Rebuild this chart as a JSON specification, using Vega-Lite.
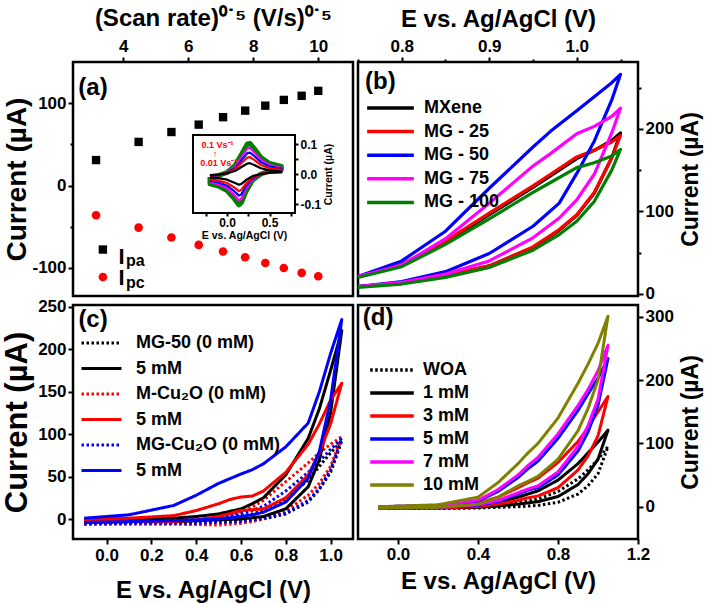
{
"$schema":"https://vega.github.io/schema/vega-lite/v6.json",
"autosize":{"type":"none"},
"padding":{"left":73,"top":62,"right":635,"bottom":542},
"background":"white",
"config":{
 "font":"Liberation Sans",
 "view":{"stroke":"black","strokeWidth":2.5},
 "axis":{"domain":false,"grid":false,"labelOverlap":false,"labelFlush":false,"tickColor":"black","tickWidth":2,"tickSize":5,"labelFont":"Liberation Sans","labelFontWeight":"bold","labelFontSize":17,"labelColor":"black","labelPadding":2,"titleFont":"Liberation Sans","titleFontWeight":"bold","titleFontSize":24,"titleColor":"black"},
 "legend":{"orient":"none","title":null,"symbolType":"stroke","symbolStrokeWidth":3.5,"labelFont":"Liberation Sans","labelFontWeight":"bold","labelFontSize":18,"labelColor":"black","clipHeight":18,"padding":0},
 "text":{"font":"Liberation Sans","fontWeight":"bold","color":"black"},
 "line":{"strokeCap":"butt"}
},
"datasets":{
 "a":[
  {"x":3.16,"I":31,"t":"pa"},{"x":4.47,"I":53,"t":"pa"},{"x":5.48,"I":65,"t":"pa"},{"x":6.32,"I":74,"t":"pa"},{"x":7.07,"I":83,"t":"pa"},{"x":7.75,"I":91,"t":"pa"},{"x":8.37,"I":97,"t":"pa"},{"x":8.94,"I":104,"t":"pa"},{"x":9.49,"I":109,"t":"pa"},{"x":10.0,"I":115,"t":"pa"},
  {"x":3.16,"I":-36,"t":"pc"},{"x":4.47,"I":-51,"t":"pc"},{"x":5.48,"I":-63,"t":"pc"},{"x":6.32,"I":-72,"t":"pc"},{"x":7.07,"I":-80,"t":"pc"},{"x":7.75,"I":-87,"t":"pc"},{"x":8.37,"I":-94,"t":"pc"},{"x":8.94,"I":-100,"t":"pc"},{"x":9.49,"I":-106,"t":"pc"},{"x":10.0,"I":-110,"t":"pc"}
 ],
 "inset":[
  {"s":"g","o":1,"E":-0.2,"I":-0.01},{"s":"g","o":2,"E":-0.1,"I":-0.005},{"s":"g","o":3,"E":0.0,"I":0.005},{"s":"g","o":4,"E":0.1,"I":0.03},{"s":"g","o":5,"E":0.18,"I":0.07},{"s":"g","o":6,"E":0.24,"I":0.1},{"s":"g","o":7,"E":0.27,"I":0.102},{"s":"g","o":8,"E":0.32,"I":0.085},{"s":"g","o":9,"E":0.4,"I":0.055},{"s":"g","o":10,"E":0.5,"I":0.035},{"s":"g","o":11,"E":0.64,"I":0.025},
  {"s":"g","o":12,"E":0.64,"I":0.015},{"s":"g","o":13,"E":0.5,"I":0.01},{"s":"g","o":14,"E":0.4,"I":0.0},{"s":"g","o":15,"E":0.3,"I":-0.02},{"s":"g","o":16,"E":0.22,"I":-0.06},{"s":"g","o":17,"E":0.17,"I":-0.095},{"s":"g","o":18,"E":0.14,"I":-0.103},{"s":"g","o":19,"E":0.08,"I":-0.08},{"s":"g","o":20,"E":0.0,"I":-0.055},{"s":"g","o":21,"E":-0.1,"I":-0.04},{"s":"g","o":22,"E":-0.2,"I":-0.033},{"s":"g","o":23,"E":-0.2,"I":-0.01},
  {"s":"m","o":1,"E":-0.2,"I":-0.009},{"s":"m","o":2,"E":-0.1,"I":-0.004},{"s":"m","o":3,"E":0.0,"I":0.004},{"s":"m","o":4,"E":0.1,"I":0.026},{"s":"m","o":5,"E":0.18,"I":0.06},{"s":"m","o":6,"E":0.24,"I":0.085},{"s":"m","o":7,"E":0.27,"I":0.087},{"s":"m","o":8,"E":0.32,"I":0.072},{"s":"m","o":9,"E":0.4,"I":0.047},{"s":"m","o":10,"E":0.5,"I":0.03},{"s":"m","o":11,"E":0.64,"I":0.021},
  {"s":"m","o":12,"E":0.64,"I":0.013},{"s":"m","o":13,"E":0.5,"I":0.009},{"s":"m","o":14,"E":0.4,"I":0.0},{"s":"m","o":15,"E":0.3,"I":-0.017},{"s":"m","o":16,"E":0.22,"I":-0.051},{"s":"m","o":17,"E":0.17,"I":-0.081},{"s":"m","o":18,"E":0.14,"I":-0.088},{"s":"m","o":19,"E":0.08,"I":-0.068},{"s":"m","o":20,"E":0.0,"I":-0.047},{"s":"m","o":21,"E":-0.1,"I":-0.034},{"s":"m","o":22,"E":-0.2,"I":-0.028},
  {"s":"b","o":1,"E":-0.2,"I":-0.007},{"s":"b","o":2,"E":-0.1,"I":-0.004},{"s":"b","o":3,"E":0.0,"I":0.004},{"s":"b","o":4,"E":0.1,"I":0.021},{"s":"b","o":5,"E":0.18,"I":0.049},{"s":"b","o":6,"E":0.24,"I":0.07},{"s":"b","o":7,"E":0.27,"I":0.071},{"s":"b","o":8,"E":0.32,"I":0.06},{"s":"b","o":9,"E":0.4,"I":0.039},{"s":"b","o":10,"E":0.5,"I":0.025},{"s":"b","o":11,"E":0.64,"I":0.018},
  {"s":"b","o":12,"E":0.64,"I":0.011},{"s":"b","o":13,"E":0.5,"I":0.007},{"s":"b","o":14,"E":0.4,"I":0.0},{"s":"b","o":15,"E":0.3,"I":-0.014},{"s":"b","o":16,"E":0.22,"I":-0.042},{"s":"b","o":17,"E":0.17,"I":-0.067},{"s":"b","o":18,"E":0.14,"I":-0.072},{"s":"b","o":19,"E":0.08,"I":-0.056},{"s":"b","o":20,"E":0.0,"I":-0.039},{"s":"b","o":21,"E":-0.1,"I":-0.028},{"s":"b","o":22,"E":-0.2,"I":-0.023},
  {"s":"r","o":1,"E":-0.2,"I":-0.006},{"s":"r","o":2,"E":-0.1,"I":-0.003},{"s":"r","o":3,"E":0.0,"I":0.003},{"s":"r","o":4,"E":0.1,"I":0.017},{"s":"r","o":5,"E":0.18,"I":0.039},{"s":"r","o":6,"E":0.24,"I":0.055},{"s":"r","o":7,"E":0.27,"I":0.056},{"s":"r","o":8,"E":0.32,"I":0.047},{"s":"r","o":9,"E":0.4,"I":0.03},{"s":"r","o":10,"E":0.5,"I":0.019},{"s":"r","o":11,"E":0.64,"I":0.014},
  {"s":"r","o":12,"E":0.64,"I":0.008},{"s":"r","o":13,"E":0.5,"I":0.006},{"s":"r","o":14,"E":0.4,"I":0.0},{"s":"r","o":15,"E":0.3,"I":-0.011},{"s":"r","o":16,"E":0.22,"I":-0.033},{"s":"r","o":17,"E":0.17,"I":-0.052},{"s":"r","o":18,"E":0.14,"I":-0.057},{"s":"r","o":19,"E":0.08,"I":-0.044},{"s":"r","o":20,"E":0.0,"I":-0.03},{"s":"r","o":21,"E":-0.1,"I":-0.022},{"s":"r","o":22,"E":-0.2,"I":-0.018},
  {"s":"k","o":1,"E":-0.2,"I":-0.004},{"s":"k","o":2,"E":-0.1,"I":-0.002},{"s":"k","o":3,"E":0.0,"I":0.002},{"s":"k","o":4,"E":0.1,"I":0.011},{"s":"k","o":5,"E":0.18,"I":0.025},{"s":"k","o":6,"E":0.24,"I":0.035},{"s":"k","o":7,"E":0.27,"I":0.036},{"s":"k","o":8,"E":0.32,"I":0.03},{"s":"k","o":9,"E":0.4,"I":0.019},{"s":"k","o":10,"E":0.5,"I":0.012},{"s":"k","o":11,"E":0.64,"I":0.009},
  {"s":"k","o":12,"E":0.64,"I":0.005},{"s":"k","o":13,"E":0.5,"I":0.004},{"s":"k","o":14,"E":0.4,"I":0.0},{"s":"k","o":15,"E":0.3,"I":-0.007},{"s":"k","o":16,"E":0.22,"I":-0.021},{"s":"k","o":17,"E":0.17,"I":-0.033},{"s":"k","o":18,"E":0.14,"I":-0.036},{"s":"k","o":19,"E":0.08,"I":-0.028},{"s":"k","o":20,"E":0.0,"I":-0.019},{"s":"k","o":21,"E":-0.1,"I":-0.014},{"s":"k","o":22,"E":-0.2,"I":-0.012}
 ],
 "b":[
  {"s":"MXene","o":1,"E":0.75,"I":9},{"s":"MXene","o":2,"E":0.8,"I":13},{"s":"MXene","o":3,"E":0.85,"I":22},{"s":"MXene","o":4,"E":0.9,"I":34},{"s":"MXene","o":5,"E":0.95,"I":56},{"s":"MXene","o":6,"E":0.98,"I":77},{"s":"MXene","o":7,"E":1.0,"I":95},{"s":"MXene","o":8,"E":1.02,"I":122},{"s":"MXene","o":9,"E":1.04,"I":165},{"s":"MXene","o":10,"E":1.05,"I":195},
  {"s":"MXene","o":11,"E":1.04,"I":186},{"s":"MXene","o":12,"E":1.02,"I":174},{"s":"MXene","o":13,"E":1.0,"I":164},{"s":"MXene","o":14,"E":0.97,"I":143},{"s":"MXene","o":15,"E":0.95,"I":129},{"s":"MXene","o":16,"E":0.9,"I":96},{"s":"MXene","o":17,"E":0.85,"I":62},{"s":"MXene","o":18,"E":0.8,"I":35},{"s":"MXene","o":19,"E":0.75,"I":21},
  {"s":"MG - 25","o":1,"E":0.75,"I":9},{"s":"MG - 25","o":2,"E":0.8,"I":13},{"s":"MG - 25","o":3,"E":0.85,"I":22},{"s":"MG - 25","o":4,"E":0.9,"I":34},{"s":"MG - 25","o":5,"E":0.95,"I":57},{"s":"MG - 25","o":6,"E":0.98,"I":78},{"s":"MG - 25","o":7,"E":1.0,"I":96},{"s":"MG - 25","o":8,"E":1.02,"I":123},{"s":"MG - 25","o":9,"E":1.04,"I":165},{"s":"MG - 25","o":10,"E":1.05,"I":192},
  {"s":"MG - 25","o":11,"E":1.04,"I":184},{"s":"MG - 25","o":12,"E":1.02,"I":174},{"s":"MG - 25","o":13,"E":1.0,"I":166},{"s":"MG - 25","o":14,"E":0.97,"I":145},{"s":"MG - 25","o":15,"E":0.95,"I":131},{"s":"MG - 25","o":16,"E":0.9,"I":98},{"s":"MG - 25","o":17,"E":0.85,"I":64},{"s":"MG - 25","o":18,"E":0.8,"I":36},{"s":"MG - 25","o":19,"E":0.75,"I":21},
  {"s":"MG - 50","o":1,"E":0.75,"I":9},{"s":"MG - 50","o":2,"E":0.8,"I":15},{"s":"MG - 50","o":3,"E":0.85,"I":27},{"s":"MG - 50","o":4,"E":0.9,"I":49},{"s":"MG - 50","o":5,"E":0.95,"I":82},{"s":"MG - 50","o":6,"E":0.98,"I":110},{"s":"MG - 50","o":7,"E":1.0,"I":146},{"s":"MG - 50","o":8,"E":1.02,"I":185},{"s":"MG - 50","o":9,"E":1.04,"I":235},{"s":"MG - 50","o":10,"E":1.05,"I":266},
  {"s":"MG - 50","o":11,"E":1.04,"I":256},{"s":"MG - 50","o":12,"E":1.02,"I":239},{"s":"MG - 50","o":13,"E":1.0,"I":222},{"s":"MG - 50","o":14,"E":0.97,"I":197},{"s":"MG - 50","o":15,"E":0.95,"I":178},{"s":"MG - 50","o":16,"E":0.9,"I":128},{"s":"MG - 50","o":17,"E":0.85,"I":76},{"s":"MG - 50","o":18,"E":0.8,"I":40},{"s":"MG - 50","o":19,"E":0.75,"I":21},
  {"s":"MG - 75","o":1,"E":0.75,"I":9},{"s":"MG - 75","o":2,"E":0.8,"I":14},{"s":"MG - 75","o":3,"E":0.85,"I":24},{"s":"MG - 75","o":4,"E":0.9,"I":40},{"s":"MG - 75","o":5,"E":0.95,"I":68},{"s":"MG - 75","o":6,"E":0.98,"I":92},{"s":"MG - 75","o":7,"E":1.0,"I":114},{"s":"MG - 75","o":8,"E":1.02,"I":145},{"s":"MG - 75","o":9,"E":1.04,"I":195},{"s":"MG - 75","o":10,"E":1.05,"I":225},
  {"s":"MG - 75","o":11,"E":1.04,"I":215},{"s":"MG - 75","o":12,"E":1.02,"I":203},{"s":"MG - 75","o":13,"E":1.0,"I":194},{"s":"MG - 75","o":14,"E":0.97,"I":170},{"s":"MG - 75","o":15,"E":0.95,"I":155},{"s":"MG - 75","o":16,"E":0.9,"I":110},{"s":"MG - 75","o":17,"E":0.85,"I":67},{"s":"MG - 75","o":18,"E":0.8,"I":35},{"s":"MG - 75","o":19,"E":0.75,"I":21},
  {"s":"MG - 100","o":1,"E":0.75,"I":8},{"s":"MG - 100","o":2,"E":0.8,"I":12},{"s":"MG - 100","o":3,"E":0.85,"I":20},{"s":"MG - 100","o":4,"E":0.9,"I":32},{"s":"MG - 100","o":5,"E":0.95,"I":53},{"s":"MG - 100","o":6,"E":0.98,"I":72},{"s":"MG - 100","o":7,"E":1.0,"I":88},{"s":"MG - 100","o":8,"E":1.02,"I":112},{"s":"MG - 100","o":9,"E":1.04,"I":150},{"s":"MG - 100","o":10,"E":1.05,"I":175},
  {"s":"MG - 100","o":11,"E":1.04,"I":167},{"s":"MG - 100","o":12,"E":1.02,"I":159},{"s":"MG - 100","o":13,"E":1.0,"I":153},{"s":"MG - 100","o":14,"E":0.97,"I":135},{"s":"MG - 100","o":15,"E":0.95,"I":123},{"s":"MG - 100","o":16,"E":0.9,"I":91},{"s":"MG - 100","o":17,"E":0.85,"I":60},{"s":"MG - 100","o":18,"E":0.8,"I":33},{"s":"MG - 100","o":19,"E":0.75,"I":20}
 ],
 "c":[
  {"s":"MG-50 (0 mM)","o":1,"E":-0.1,"I":-5},{"s":"MG-50 (0 mM)","o":2,"E":0.1,"I":-5},{"s":"MG-50 (0 mM)","o":3,"E":0.3,"I":-5},{"s":"MG-50 (0 mM)","o":4,"E":0.4,"I":-4.5},{"s":"MG-50 (0 mM)","o":5,"E":0.5,"I":-4},{"s":"MG-50 (0 mM)","o":6,"E":0.6,"I":-3},{"s":"MG-50 (0 mM)","o":7,"E":0.65,"I":-1.5},{"s":"MG-50 (0 mM)","o":8,"E":0.7,"I":0},{"s":"MG-50 (0 mM)","o":9,"E":0.8,"I":6},{"s":"MG-50 (0 mM)","o":10,"E":0.9,"I":20},{"s":"MG-50 (0 mM)","o":11,"E":0.95,"I":35},{"s":"MG-50 (0 mM)","o":12,"E":1.0,"I":55},{"s":"MG-50 (0 mM)","o":13,"E":1.05,"I":92},
  {"s":"MG-50 (0 mM)","o":14,"E":1.0,"I":78},{"s":"MG-50 (0 mM)","o":15,"E":0.95,"I":62},{"s":"MG-50 (0 mM)","o":16,"E":0.9,"I":46},{"s":"MG-50 (0 mM)","o":17,"E":0.8,"I":24},{"s":"MG-50 (0 mM)","o":18,"E":0.7,"I":10},{"s":"MG-50 (0 mM)","o":19,"E":0.65,"I":6},{"s":"MG-50 (0 mM)","o":20,"E":0.6,"I":4},{"s":"MG-50 (0 mM)","o":21,"E":0.5,"I":1},{"s":"MG-50 (0 mM)","o":22,"E":0.4,"I":-1},{"s":"MG-50 (0 mM)","o":23,"E":0.3,"I":-2},{"s":"MG-50 (0 mM)","o":24,"E":0.1,"I":-2},{"s":"MG-50 (0 mM)","o":25,"E":-0.1,"I":-3},
  {"s":"M-Cu₂O (0 mM)","o":1,"E":-0.1,"I":-6},{"s":"M-Cu₂O (0 mM)","o":2,"E":0.1,"I":-6},{"s":"M-Cu₂O (0 mM)","o":3,"E":0.3,"I":-6},{"s":"M-Cu₂O (0 mM)","o":4,"E":0.4,"I":-6.5},{"s":"M-Cu₂O (0 mM)","o":5,"E":0.5,"I":-7},{"s":"M-Cu₂O (0 mM)","o":6,"E":0.6,"I":-5},{"s":"M-Cu₂O (0 mM)","o":7,"E":0.65,"I":-3},{"s":"M-Cu₂O (0 mM)","o":8,"E":0.7,"I":0},{"s":"M-Cu₂O (0 mM)","o":9,"E":0.8,"I":10},{"s":"M-Cu₂O (0 mM)","o":10,"E":0.9,"I":28},{"s":"M-Cu₂O (0 mM)","o":11,"E":0.95,"I":42},{"s":"M-Cu₂O (0 mM)","o":12,"E":1.0,"I":62},{"s":"M-Cu₂O (0 mM)","o":13,"E":1.05,"I":97},
  {"s":"M-Cu₂O (0 mM)","o":14,"E":1.0,"I":88},{"s":"M-Cu₂O (0 mM)","o":15,"E":0.95,"I":78},{"s":"M-Cu₂O (0 mM)","o":16,"E":0.9,"I":66},{"s":"M-Cu₂O (0 mM)","o":17,"E":0.8,"I":44},{"s":"M-Cu₂O (0 mM)","o":18,"E":0.7,"I":22},{"s":"M-Cu₂O (0 mM)","o":19,"E":0.65,"I":14},{"s":"M-Cu₂O (0 mM)","o":20,"E":0.6,"I":8},{"s":"M-Cu₂O (0 mM)","o":21,"E":0.5,"I":2},{"s":"M-Cu₂O (0 mM)","o":22,"E":0.4,"I":-2},{"s":"M-Cu₂O (0 mM)","o":23,"E":0.3,"I":-4},{"s":"M-Cu₂O (0 mM)","o":24,"E":0.1,"I":-4},{"s":"M-Cu₂O (0 mM)","o":25,"E":-0.1,"I":-4},
  {"s":"MG-Cu₂O (0 mM)","o":1,"E":-0.1,"I":-6},{"s":"MG-Cu₂O (0 mM)","o":2,"E":0.1,"I":-5},{"s":"MG-Cu₂O (0 mM)","o":3,"E":0.3,"I":-5},{"s":"MG-Cu₂O (0 mM)","o":4,"E":0.4,"I":-5},{"s":"MG-Cu₂O (0 mM)","o":5,"E":0.5,"I":-4},{"s":"MG-Cu₂O (0 mM)","o":6,"E":0.6,"I":-3},{"s":"MG-Cu₂O (0 mM)","o":7,"E":0.65,"I":-1},{"s":"MG-Cu₂O (0 mM)","o":8,"E":0.7,"I":1},{"s":"MG-Cu₂O (0 mM)","o":9,"E":0.8,"I":7},{"s":"MG-Cu₂O (0 mM)","o":10,"E":0.9,"I":22},{"s":"MG-Cu₂O (0 mM)","o":11,"E":0.95,"I":36},{"s":"MG-Cu₂O (0 mM)","o":12,"E":1.0,"I":58},{"s":"MG-Cu₂O (0 mM)","o":13,"E":1.05,"I":95},
  {"s":"MG-Cu₂O (0 mM)","o":14,"E":1.0,"I":82},{"s":"MG-Cu₂O (0 mM)","o":15,"E":0.95,"I":68},{"s":"MG-Cu₂O (0 mM)","o":16,"E":0.9,"I":55},{"s":"MG-Cu₂O (0 mM)","o":17,"E":0.8,"I":33},{"s":"MG-Cu₂O (0 mM)","o":18,"E":0.7,"I":15},{"s":"MG-Cu₂O (0 mM)","o":19,"E":0.65,"I":10},{"s":"MG-Cu₂O (0 mM)","o":20,"E":0.6,"I":6},{"s":"MG-Cu₂O (0 mM)","o":21,"E":0.5,"I":1},{"s":"MG-Cu₂O (0 mM)","o":22,"E":0.4,"I":-1},{"s":"MG-Cu₂O (0 mM)","o":23,"E":0.3,"I":-2},{"s":"MG-Cu₂O (0 mM)","o":24,"E":0.1,"I":-3},{"s":"MG-Cu₂O (0 mM)","o":25,"E":-0.1,"I":-4},
  {"s":"MG-50 5 mM","o":1,"E":-0.1,"I":-3},{"s":"MG-50 5 mM","o":2,"E":0.1,"I":-3},{"s":"MG-50 5 mM","o":3,"E":0.3,"I":-3},{"s":"MG-50 5 mM","o":4,"E":0.4,"I":-2},{"s":"MG-50 5 mM","o":5,"E":0.5,"I":-1},{"s":"MG-50 5 mM","o":6,"E":0.6,"I":0},{"s":"MG-50 5 mM","o":7,"E":0.65,"I":1.5},{"s":"MG-50 5 mM","o":8,"E":0.7,"I":3},{"s":"MG-50 5 mM","o":9,"E":0.8,"I":12},{"s":"MG-50 5 mM","o":10,"E":0.9,"I":38},{"s":"MG-50 5 mM","o":11,"E":0.95,"I":70},{"s":"MG-50 5 mM","o":12,"E":1.0,"I":125},{"s":"MG-50 5 mM","o":13,"E":1.05,"I":222},
  {"s":"MG-50 5 mM","o":14,"E":1.0,"I":175},{"s":"MG-50 5 mM","o":15,"E":0.95,"I":130},{"s":"MG-50 5 mM","o":16,"E":0.9,"I":95},{"s":"MG-50 5 mM","o":17,"E":0.8,"I":52},{"s":"MG-50 5 mM","o":18,"E":0.7,"I":25},{"s":"MG-50 5 mM","o":19,"E":0.65,"I":18},{"s":"MG-50 5 mM","o":20,"E":0.6,"I":12},{"s":"MG-50 5 mM","o":21,"E":0.5,"I":6},{"s":"MG-50 5 mM","o":22,"E":0.4,"I":3},{"s":"MG-50 5 mM","o":23,"E":0.3,"I":1},{"s":"MG-50 5 mM","o":24,"E":0.1,"I":0},{"s":"MG-50 5 mM","o":25,"E":-0.1,"I":-1},
  {"s":"M-Cu₂O 5 mM","o":1,"E":-0.1,"I":-3},{"s":"M-Cu₂O 5 mM","o":2,"E":0.1,"I":-3},{"s":"M-Cu₂O 5 mM","o":3,"E":0.3,"I":-3},{"s":"M-Cu₂O 5 mM","o":4,"E":0.4,"I":-1},{"s":"M-Cu₂O 5 mM","o":5,"E":0.5,"I":3},{"s":"M-Cu₂O 5 mM","o":6,"E":0.6,"I":10},{"s":"M-Cu₂O 5 mM","o":7,"E":0.65,"I":11},{"s":"M-Cu₂O 5 mM","o":8,"E":0.7,"I":12},{"s":"M-Cu₂O 5 mM","o":9,"E":0.8,"I":25},{"s":"M-Cu₂O 5 mM","o":10,"E":0.9,"I":52},{"s":"M-Cu₂O 5 mM","o":11,"E":0.95,"I":78},{"s":"M-Cu₂O 5 mM","o":12,"E":1.0,"I":112},{"s":"M-Cu₂O 5 mM","o":13,"E":1.05,"I":160},
  {"s":"M-Cu₂O 5 mM","o":14,"E":1.0,"I":140},{"s":"M-Cu₂O 5 mM","o":15,"E":0.95,"I":112},{"s":"M-Cu₂O 5 mM","o":16,"E":0.9,"I":88},{"s":"M-Cu₂O 5 mM","o":17,"E":0.8,"I":55},{"s":"M-Cu₂O 5 mM","o":18,"E":0.7,"I":33},{"s":"M-Cu₂O 5 mM","o":19,"E":0.65,"I":27},{"s":"M-Cu₂O 5 mM","o":20,"E":0.6,"I":26},{"s":"M-Cu₂O 5 mM","o":21,"E":0.55,"I":23},{"s":"M-Cu₂O 5 mM","o":22,"E":0.5,"I":18},{"s":"M-Cu₂O 5 mM","o":23,"E":0.4,"I":10},{"s":"M-Cu₂O 5 mM","o":24,"E":0.3,"I":4},{"s":"M-Cu₂O 5 mM","o":25,"E":0.1,"I":1},{"s":"M-Cu₂O 5 mM","o":26,"E":-0.1,"I":0},
  {"s":"MG-Cu₂O 5 mM","o":1,"E":-0.1,"I":-4},{"s":"MG-Cu₂O 5 mM","o":2,"E":0.1,"I":-3},{"s":"MG-Cu₂O 5 mM","o":3,"E":0.3,"I":-2},{"s":"MG-Cu₂O 5 mM","o":4,"E":0.4,"I":-1},{"s":"MG-Cu₂O 5 mM","o":5,"E":0.5,"I":0},{"s":"MG-Cu₂O 5 mM","o":6,"E":0.6,"I":3},{"s":"MG-Cu₂O 5 mM","o":7,"E":0.65,"I":5},{"s":"MG-Cu₂O 5 mM","o":8,"E":0.7,"I":8},{"s":"MG-Cu₂O 5 mM","o":9,"E":0.8,"I":20},{"s":"MG-Cu₂O 5 mM","o":10,"E":0.9,"I":48},{"s":"MG-Cu₂O 5 mM","o":11,"E":0.95,"I":80},{"s":"MG-Cu₂O 5 mM","o":12,"E":1.0,"I":140},{"s":"MG-Cu₂O 5 mM","o":13,"E":1.05,"I":235},
  {"s":"MG-Cu₂O 5 mM","o":14,"E":1.0,"I":195},{"s":"MG-Cu₂O 5 mM","o":15,"E":0.95,"I":150},{"s":"MG-Cu₂O 5 mM","o":16,"E":0.9,"I":113},{"s":"MG-Cu₂O 5 mM","o":17,"E":0.8,"I":85},{"s":"MG-Cu₂O 5 mM","o":18,"E":0.7,"I":65},{"s":"MG-Cu₂O 5 mM","o":19,"E":0.65,"I":58},{"s":"MG-Cu₂O 5 mM","o":20,"E":0.6,"I":53},{"s":"MG-Cu₂O 5 mM","o":21,"E":0.5,"I":42},{"s":"MG-Cu₂O 5 mM","o":22,"E":0.4,"I":28},{"s":"MG-Cu₂O 5 mM","o":23,"E":0.3,"I":16},{"s":"MG-Cu₂O 5 mM","o":24,"E":0.1,"I":5},{"s":"MG-Cu₂O 5 mM","o":25,"E":-0.1,"I":1}
 ],
 "d":[
  {"s":"WOA","o":1,"E":-0.1,"I":-3},{"s":"WOA","o":2,"E":0.2,"I":-3},{"s":"WOA","o":3,"E":0.4,"I":-2},{"s":"WOA","o":4,"E":0.5,"I":-1},{"s":"WOA","o":5,"E":0.6,"I":0},{"s":"WOA","o":6,"E":0.65,"I":1},{"s":"WOA","o":7,"E":0.7,"I":2},{"s":"WOA","o":8,"E":0.8,"I":7},{"s":"WOA","o":9,"E":0.9,"I":20},{"s":"WOA","o":10,"E":0.95,"I":33},{"s":"WOA","o":11,"E":1.0,"I":52},{"s":"WOA","o":12,"E":1.05,"I":95},
  {"s":"WOA","o":13,"E":1.0,"I":75},{"s":"WOA","o":14,"E":0.95,"I":58},{"s":"WOA","o":15,"E":0.9,"I":44},{"s":"WOA","o":16,"E":0.8,"I":24},{"s":"WOA","o":17,"E":0.7,"I":12},{"s":"WOA","o":18,"E":0.65,"I":9},{"s":"WOA","o":19,"E":0.6,"I":6},{"s":"WOA","o":20,"E":0.5,"I":2},{"s":"WOA","o":21,"E":0.4,"I":0},{"s":"WOA","o":22,"E":0.2,"I":-1},{"s":"WOA","o":23,"E":-0.1,"I":-2},
  {"s":"1 mM","o":1,"E":-0.1,"I":-2},{"s":"1 mM","o":2,"E":0.2,"I":-2},{"s":"1 mM","o":3,"E":0.4,"I":-1},{"s":"1 mM","o":4,"E":0.5,"I":1},{"s":"1 mM","o":5,"E":0.6,"I":4},{"s":"1 mM","o":6,"E":0.65,"I":6},{"s":"1 mM","o":7,"E":0.7,"I":8},{"s":"1 mM","o":8,"E":0.8,"I":16},{"s":"1 mM","o":9,"E":0.9,"I":35},{"s":"1 mM","o":10,"E":0.95,"I":52},{"s":"1 mM","o":11,"E":1.0,"I":75},{"s":"1 mM","o":12,"E":1.05,"I":121},
  {"s":"1 mM","o":13,"E":1.0,"I":102},{"s":"1 mM","o":14,"E":0.95,"I":85},{"s":"1 mM","o":15,"E":0.9,"I":68},{"s":"1 mM","o":16,"E":0.8,"I":42},{"s":"1 mM","o":17,"E":0.7,"I":25},{"s":"1 mM","o":18,"E":0.65,"I":20},{"s":"1 mM","o":19,"E":0.6,"I":15},{"s":"1 mM","o":20,"E":0.5,"I":7},{"s":"1 mM","o":21,"E":0.4,"I":3},{"s":"1 mM","o":22,"E":0.2,"I":0},{"s":"1 mM","o":23,"E":-0.1,"I":-1},
  {"s":"3 mM","o":1,"E":-0.1,"I":-2},{"s":"3 mM","o":2,"E":0.2,"I":-2},{"s":"3 mM","o":3,"E":0.4,"I":0},{"s":"3 mM","o":4,"E":0.5,"I":4},{"s":"3 mM","o":5,"E":0.6,"I":10},{"s":"3 mM","o":6,"E":0.65,"I":14},{"s":"3 mM","o":7,"E":0.7,"I":17},{"s":"3 mM","o":8,"E":0.8,"I":30},{"s":"3 mM","o":9,"E":0.9,"I":58},{"s":"3 mM","o":10,"E":0.95,"I":80},{"s":"3 mM","o":11,"E":1.0,"I":112},{"s":"3 mM","o":12,"E":1.05,"I":174},
  {"s":"3 mM","o":13,"E":1.0,"I":150},{"s":"3 mM","o":14,"E":0.95,"I":125},{"s":"3 mM","o":15,"E":0.9,"I":103},{"s":"3 mM","o":16,"E":0.8,"I":70},{"s":"3 mM","o":17,"E":0.7,"I":45},{"s":"3 mM","o":18,"E":0.65,"I":38},{"s":"3 mM","o":19,"E":0.6,"I":30},{"s":"3 mM","o":20,"E":0.5,"I":15},{"s":"3 mM","o":21,"E":0.4,"I":6},{"s":"3 mM","o":22,"E":0.2,"I":1},{"s":"3 mM","o":23,"E":-0.1,"I":0},
  {"s":"5 mM","o":1,"E":-0.1,"I":-2},{"s":"5 mM","o":2,"E":0.2,"I":-1},{"s":"5 mM","o":3,"E":0.4,"I":2},{"s":"5 mM","o":4,"E":0.5,"I":8},{"s":"5 mM","o":5,"E":0.6,"I":20},{"s":"5 mM","o":6,"E":0.65,"I":26},{"s":"5 mM","o":7,"E":0.7,"I":30},{"s":"5 mM","o":8,"E":0.8,"I":50},{"s":"5 mM","o":9,"E":0.9,"I":88},{"s":"5 mM","o":10,"E":0.95,"I":118},{"s":"5 mM","o":11,"E":1.0,"I":160},{"s":"5 mM","o":12,"E":1.05,"I":234},
  {"s":"5 mM","o":13,"E":1.0,"I":203},{"s":"5 mM","o":14,"E":0.95,"I":178},{"s":"5 mM","o":15,"E":0.9,"I":152},{"s":"5 mM","o":16,"E":0.8,"I":108},{"s":"5 mM","o":17,"E":0.7,"I":72},{"s":"5 mM","o":18,"E":0.65,"I":60},{"s":"5 mM","o":19,"E":0.6,"I":46},{"s":"5 mM","o":20,"E":0.5,"I":24},{"s":"5 mM","o":21,"E":0.4,"I":9},{"s":"5 mM","o":22,"E":0.2,"I":2},{"s":"5 mM","o":23,"E":-0.1,"I":0},
  {"s":"7 mM","o":1,"E":-0.1,"I":-2},{"s":"7 mM","o":2,"E":0.2,"I":-1},{"s":"7 mM","o":3,"E":0.4,"I":3},{"s":"7 mM","o":4,"E":0.5,"I":10},{"s":"7 mM","o":5,"E":0.6,"I":22},{"s":"7 mM","o":6,"E":0.65,"I":28},{"s":"7 mM","o":7,"E":0.7,"I":33},{"s":"7 mM","o":8,"E":0.8,"I":55},{"s":"7 mM","o":9,"E":0.9,"I":95},{"s":"7 mM","o":10,"E":0.95,"I":128},{"s":"7 mM","o":11,"E":1.0,"I":170},{"s":"7 mM","o":12,"E":1.05,"I":255},
  {"s":"7 mM","o":13,"E":1.0,"I":215},{"s":"7 mM","o":14,"E":0.95,"I":185},{"s":"7 mM","o":15,"E":0.9,"I":160},{"s":"7 mM","o":16,"E":0.8,"I":115},{"s":"7 mM","o":17,"E":0.7,"I":78},{"s":"7 mM","o":18,"E":0.65,"I":65},{"s":"7 mM","o":19,"E":0.6,"I":50},{"s":"7 mM","o":20,"E":0.5,"I":27},{"s":"7 mM","o":21,"E":0.4,"I":10},{"s":"7 mM","o":22,"E":0.2,"I":2},{"s":"7 mM","o":23,"E":-0.1,"I":0},
  {"s":"10 mM","o":1,"E":-0.1,"I":-2},{"s":"10 mM","o":2,"E":0.2,"I":-1},{"s":"10 mM","o":3,"E":0.4,"I":4},{"s":"10 mM","o":4,"E":0.5,"I":15},{"s":"10 mM","o":5,"E":0.6,"I":33},{"s":"10 mM","o":6,"E":0.65,"I":40},{"s":"10 mM","o":7,"E":0.7,"I":48},{"s":"10 mM","o":8,"E":0.8,"I":75},{"s":"10 mM","o":9,"E":0.9,"I":120},{"s":"10 mM","o":10,"E":0.95,"I":155},{"s":"10 mM","o":11,"E":1.0,"I":200},{"s":"10 mM","o":12,"E":1.05,"I":301},
  {"s":"10 mM","o":13,"E":1.0,"I":258},{"s":"10 mM","o":14,"E":0.95,"I":225},{"s":"10 mM","o":15,"E":0.9,"I":195},{"s":"10 mM","o":16,"E":0.8,"I":140},{"s":"10 mM","o":17,"E":0.7,"I":100},{"s":"10 mM","o":18,"E":0.65,"I":85},{"s":"10 mM","o":19,"E":0.6,"I":68},{"s":"10 mM","o":20,"E":0.5,"I":38},{"s":"10 mM","o":21,"E":0.4,"I":15},{"s":"10 mM","o":22,"E":0.2,"I":3},{"s":"10 mM","o":23,"E":-0.1,"I":0}
 ]
},
"columns":2,
"spacing":{"row":9,"column":5},
"bounds":"flush",
"resolve":{"scale":{"color":"independent","strokeDash":"independent"},"legend":{"color":"independent","strokeDash":"independent"}},
"concat":[
 {
  "width":280,"height":234,
  "resolve":{"scale":{"x":"independent","y":"independent"}},
  "layer":[
   {"layer":[
    {"data":{"name":"a"},"transform":[{"filter":"datum.t=='pa'"}],"mark":{"type":"square","size":70,"color":"black","opacity":1},
     "encoding":{
      "x":{"field":"x","type":"quantitative","scale":{"domain":[2.45,11.07],"nice":false,"zero":false},"axis":{"orient":"top","title":"(Scan rate)⁰˙⁵ (V/s)⁰˙⁵","values":[4,6,8,10],"format":"d","tickSize":5,"titlePadding":7}},
      "y":{"field":"I","type":"quantitative","scale":{"domain":[-134,150],"nice":false,"zero":false},"axis":{"orient":"left","title":"Current (µA)","titleFontSize":28,"values":[-100,-50,0,50,100],"labelExpr":"datum.value%100==0 ? toString(datum.value) : ''","tickSize":{"condition":{"test":"datum.value%100!=0","value":3},"value":5},"titlePadding":0}}
     }},
    {"data":{"name":"a"},"transform":[{"filter":"datum.t=='pc'"}],"mark":{"type":"circle","size":75,"color":"red","opacity":1},
     "encoding":{"x":{"field":"x","type":"quantitative"},"y":{"field":"I","type":"quantitative"}}},
    {"data":{"values":[{}]},"mark":{"type":"square","size":70,"color":"black","opacity":1},"encoding":{"x":{"datum":3.37,"type":"quantitative"},"y":{"datum":-77.6,"type":"quantitative"}}},
    {"data":{"values":[{}]},"mark":{"type":"circle","size":75,"color":"red","opacity":1},"encoding":{"x":{"datum":3.37,"type":"quantitative"},"y":{"datum":-111,"type":"quantitative"}}},
    {"data":{"values":[{}]},"mark":{"type":"text","fontSize":22,"align":"left","baseline":"alphabetic"},"encoding":{"x":{"datum":3.85,"type":"quantitative"},"y":{"datum":-94.6,"type":"quantitative"},"text":{"value":"I"}}},
    {"data":{"values":[{}]},"mark":{"type":"text","fontSize":16,"align":"left","baseline":"alphabetic"},"encoding":{"x":{"datum":4.08,"type":"quantitative"},"y":{"datum":-97,"type":"quantitative"},"text":{"value":"pa"}}},
    {"data":{"values":[{}]},"mark":{"type":"text","fontSize":22,"align":"left","baseline":"alphabetic"},"encoding":{"x":{"datum":3.85,"type":"quantitative"},"y":{"datum":-121,"type":"quantitative"},"text":{"value":"I"}}},
    {"data":{"values":[{}]},"mark":{"type":"text","fontSize":16,"align":"left","baseline":"alphabetic"},"encoding":{"x":{"datum":4.08,"type":"quantitative"},"y":{"datum":-124,"type":"quantitative"},"text":{"value":"pc"}}},
    {"data":{"values":[{}]},"mark":{"type":"text","fontSize":24,"align":"left","baseline":"middle"},"encoding":{"x":{"datum":2.615,"type":"quantitative"},"y":{"datum":118.5,"type":"quantitative"},"text":{"value":"(a)"}}}
   ]},
   {"layer":[
    {"data":{"values":[{}]},"mark":{"type":"rect","fill":"white","stroke":"black","strokeWidth":2},
     "encoding":{
      "x":{"datum":-0.4,"type":"quantitative","scale":{"domain":[-0.4,0.8],"range":[120,222],"nice":false,"zero":false},"axis":{"orient":"bottom","offset":-83,"values":[-0.25,0,0.25,0.5,0.75],"labelExpr":"datum.value==0 ? '0.0' : (datum.value==0.5 ? '0.5' : '')","title":"E vs. Ag/AgCl (V)","labelFontSize":12,"titleFontSize":10.5,"tickSize":3,"labelPadding":1,"titlePadding":2}},
      "x2":{"datum":0.8},
      "y":{"datum":-0.13,"type":"quantitative","scale":{"domain":[-0.13,0.13],"range":[151,73],"nice":false,"zero":false},"axis":{"orient":"right","offset":-58,"values":[-0.1,-0.05,0,0.05,0.1],"labelExpr":"abs(datum.value)<0.001 ? '0.0' : (abs(abs(datum.value)-0.1)<0.001 ? toString(datum.value) : '')","title":"Current (µA)","titleFontSize":10.5,"titleAngle":270,"titleBaseline":"top","labelFontSize":12,"tickSize":3,"labelPadding":2,"titlePadding":3}},
      "y2":{"datum":0.13}
     }},
    {"data":{"name":"inset"},"transform":[{"filter":"datum.s=='g'"}],"mark":{"type":"line","strokeWidth":5,"color":"#008000","strokeJoin":"round"},
     "encoding":{"x":{"field":"E","type":"quantitative"},"y":{"field":"I","type":"quantitative"},"order":{"field":"o"}}},
    {"data":{"name":"inset"},"transform":[{"filter":"datum.s!='g'"}],"mark":{"type":"line","strokeWidth":2.2,"strokeJoin":"round"},
     "encoding":{"x":{"field":"E","type":"quantitative"},"y":{"field":"I","type":"quantitative"},"order":{"field":"o"},
      "color":{"field":"s","type":"nominal","scale":{"domain":["m","b","r","k"],"range":["#ff00ff","#0000ff","#ff0000","#000000"]},"legend":null}}},
    {"data":{"values":[{}]},"mark":{"type":"text","fontSize":9,"color":"red","align":"left","baseline":"middle"},"encoding":{"x":{"datum":-0.3,"type":"quantitative"},"y":{"datum":0.097,"type":"quantitative"},"text":{"value":"0.1 Vs⁻¹"}}},
    {"data":{"values":[{}]},"mark":{"type":"text","fontSize":9,"color":"red","align":"center","baseline":"middle"},"encoding":{"x":{"datum":-0.14,"type":"quantitative"},"y":{"datum":0.068,"type":"quantitative"},"text":{"value":"↑"}}},
    {"data":{"values":[{}]},"mark":{"type":"text","fontSize":9,"color":"red","align":"left","baseline":"middle"},"encoding":{"x":{"datum":-0.314,"type":"quantitative"},"y":{"datum":0.038,"type":"quantitative"},"text":{"value":"0.01 Vs⁻¹"}}}
   ]}
  ]
 },
 {
  "width":280,"height":234,
  "layer":[
   {"data":{"name":"b"},"mark":{"type":"line","strokeWidth":3.2,"strokeJoin":"round"},
    "encoding":{
     "x":{"field":"E","type":"quantitative","scale":{"domain":[0.75,1.07],"nice":false,"zero":false},"axis":{"orient":"top","title":"E vs. Ag/AgCl (V)","values":[0.75,0.8,0.85,0.9,0.95,1.0,1.05],"labelExpr":"round(datum.value*100)%10==0 ? format(datum.value,'.1f') : ''","tickSize":{"condition":{"test":"round(datum.value*100)%10!=0","value":3},"value":5},"titlePadding":6}},
     "y":{"field":"I","type":"quantitative","scale":{"domain":[-2.5,281],"nice":false,"zero":false},"axis":{"orient":"right","title":"Current (µA)","titleFontSize":23,"titleAngle":270,"titleBaseline":"top","values":[0,50,100,150,200,250],"labelExpr":"datum.value%100==0 ? toString(datum.value) : ''","tickSize":{"condition":{"test":"datum.value%100!=0","value":3},"value":5},"titlePadding":6}},
     "color":{"field":"s","type":"nominal","scale":{"domain":["MXene","MG - 25","MG - 50","MG - 75","MG - 100"],"range":["#000000","#ff0000","#0000ff","#ff00ff","#008000"]},"legend":{"legendX":7,"legendY":37,"symbolSize":2180,"rowPadding":5.6,"labelOffset":8}},
     "order":{"field":"o"}
    }},
   {"data":{"values":[{}]},"mark":{"type":"text","fontSize":24,"align":"left","baseline":"middle"},"encoding":{"x":{"datum":0.758,"type":"quantitative"},"y":{"datum":257,"type":"quantitative"},"text":{"value":"(b)"}}}
  ]
 },
 {
  "width":280,"height":234,
  "layer":[
   {"data":{"name":"c"},"mark":{"type":"line","strokeWidth":3,"strokeJoin":"round"},
    "encoding":{
     "x":{"field":"E","type":"quantitative","scale":{"domain":[-0.15,1.1],"nice":false,"zero":false},"axis":{"orient":"bottom","title":"E vs. Ag/AgCl (V)","values":[0,0.2,0.4,0.6,0.8,1.0],"format":".1f","tickSize":5,"labelPadding":3,"titlePadding":15}},
     "y":{"field":"I","type":"quantitative","scale":{"domain":[-23.5,252],"nice":false,"zero":false},"axis":{"orient":"left","title":"Current (µA)","titleFontSize":31,"values":[0,25,50,75,100,125,150,175,200,225,250],"labelExpr":"datum.value%50==0 ? toString(datum.value) : ''","tickSize":{"condition":{"test":"datum.value%50!=0","value":3},"value":5},"titlePadding":4}},
     "color":{"field":"s","type":"nominal","scale":{"domain":["MG-50 (0 mM)","MG-50 5 mM","M-Cu₂O (0 mM)","M-Cu₂O 5 mM","MG-Cu₂O (0 mM)","MG-Cu₂O 5 mM"],"range":["#000000","#000000","#ff0000","#ff0000","#0000ff","#0000ff"]},"legend":{"legendX":7,"legendY":29,"symbolSize":1600,"rowPadding":7.5,"labelOffset":13,"symbolStrokeWidth":3,"labelExpr":"indexof(datum.label,'(0 mM)')>=0 ? datum.label : '5 mM'"}},
     "strokeDash":{"field":"s","type":"nominal","scale":{"domain":["MG-50 (0 mM)","MG-50 5 mM","M-Cu₂O (0 mM)","M-Cu₂O 5 mM","MG-Cu₂O (0 mM)","MG-Cu₂O 5 mM"],"range":[[2.5,2.5],[1,0],[2.5,2.5],[1,0],[2.5,2.5],[1,0]]},"legend":{"legendX":7,"legendY":29,"symbolSize":1600,"rowPadding":7.5,"labelOffset":13,"symbolStrokeWidth":3,"labelExpr":"indexof(datum.label,'(0 mM)')>=0 ? datum.label : '5 mM'"}},
     "order":{"field":"o"}
    }},
   {"data":{"values":[{}]},"mark":{"type":"text","fontSize":24,"align":"left","baseline":"middle"},"encoding":{"x":{"datum":-0.126,"type":"quantitative"},"y":{"datum":234,"type":"quantitative"},"text":{"value":"(c)"}}}
  ]
 },
 {
  "width":280,"height":234,
  "layer":[
   {"data":{"name":"d"},"mark":{"type":"line","strokeWidth":3,"strokeJoin":"round"},
    "encoding":{
     "x":{"field":"E","type":"quantitative","scale":{"domain":[-0.2,1.2],"nice":false,"zero":false},"axis":{"orient":"bottom","title":"E vs. Ag/AgCl (V)","values":[0,0.4,0.8,1.2],"format":".1f","tickSize":5,"titlePadding":7}},
     "y":{"field":"I","type":"quantitative","scale":{"domain":[-51,318.6],"nice":false,"zero":false},"axis":{"orient":"right","title":"Current (µA)","titleFontSize":23,"titleAngle":270,"titleBaseline":"top","values":[0,100,200,300],"format":"d","tickSize":5,"titlePadding":6}},
     "color":{"field":"s","type":"nominal","scale":{"domain":["WOA","1 mM","3 mM","5 mM","7 mM","10 mM"],"range":["#000000","#000000","#ff0000","#0000ff","#ff00ff","#808000"]},"legend":{"legendX":10,"legendY":56,"symbolSize":1900,"rowPadding":5,"labelOffset":7}},
     "strokeDash":{"field":"s","type":"nominal","scale":{"domain":["WOA","1 mM","3 mM","5 mM","7 mM","10 mM"],"range":[[2.5,2.5],[1,0],[1,0],[1,0],[1,0],[1,0]]},"legend":{"legendX":10,"legendY":56,"symbolSize":1900,"rowPadding":5,"labelOffset":7}},
     "order":{"field":"o"}
    }},
   {"data":{"values":[{}]},"mark":{"type":"text","fontSize":24,"align":"left","baseline":"middle"},"encoding":{"x":{"datum":-0.176,"type":"quantitative"},"y":{"datum":298.6,"type":"quantitative"},"text":{"value":"(d)"}}}
  ]
 }
]
}
